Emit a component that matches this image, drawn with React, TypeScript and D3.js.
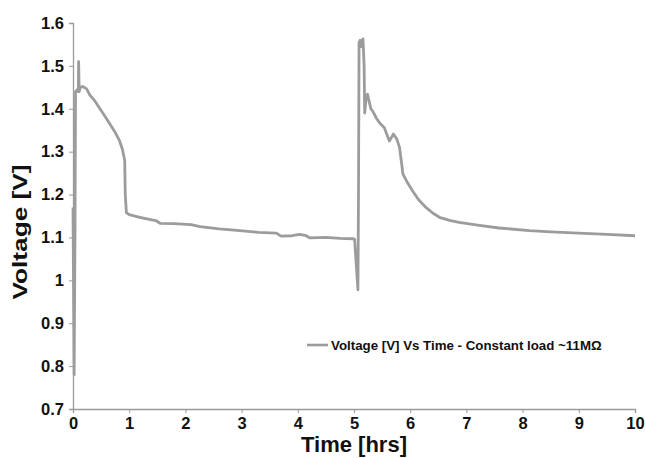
// App.tsx
import * as d3 from "d3";
import { useEffect, useRef } from "react";

const width = 645;
const height = 458;
const margin = { top: 23, right: 10, bottom: 49, left: 73 };

// time in hours
const times = [
  0.0, 0.02, 0.035, 0.045, 0.08, 0.095, 0.1, 0.11, 0.13, 0.17, 0.24, 0.3, 0.38, 0.48,
  0.58, 0.66, 0.75, 0.83, 0.88, 0.92, 0.93, 0.95, 1.0, 1.19, 1.4, 1.48, 1.55, 1.8,
  2.1, 2.26, 2.6, 2.97, 3.3, 3.62, 3.7, 3.9, 4.03, 4.15, 4.21, 4.5, 4.75, 4.98,
  5.01, 5.07, 5.08, 5.09, 5.11, 5.13, 5.16, 5.18, 5.19, 5.22, 5.24, 5.3, 5.33, 5.4,
  5.45, 5.54, 5.6, 5.63, 5.7, 5.76, 5.81, 5.85, 5.87, 5.95, 6.04, 6.15, 6.28, 6.4,
  6.52, 6.7, 6.87, 7.23, 7.58, 8.12, 8.5, 9.0, 9.5, 10.0,
];

// voltage [V]
const volts = [
  1.17, 0.78, 1.1, 1.44, 1.445, 1.44, 1.51, 1.44, 1.45, 1.452, 1.447, 1.432, 1.42, 1.4,
  1.38, 1.364, 1.345, 1.325, 1.305, 1.28, 1.2, 1.158, 1.153, 1.147, 1.141, 1.139, 1.133, 1.132,
  1.13, 1.125, 1.12, 1.116, 1.112, 1.11, 1.103, 1.104, 1.107, 1.104, 1.099, 1.1, 1.098, 1.097,
  1.096, 0.978, 1.2, 1.555, 1.56, 1.545, 1.563, 1.5, 1.39, 1.43, 1.434, 1.4, 1.395, 1.378,
  1.368, 1.356, 1.335, 1.325, 1.341, 1.33, 1.31, 1.27, 1.248, 1.228, 1.209, 1.188, 1.17, 1.157,
  1.147, 1.14, 1.135, 1.128, 1.122, 1.116, 1.113, 1.11, 1.107, 1.104,
];

const xTicks = [0, 1, 2, 3, 4, 5, 6, 7, 8, 9, 10];
const yTicks = [0.7, 0.8, 0.9, 1.0, 1.1, 1.2, 1.3, 1.4, 1.5, 1.6];

const legendLabel = "Voltage [V] Vs Time - Constant load ~11M\u03A9";
const font = "'Liberation Sans', Arial, sans-serif";

export default function App() {
  const svgRef = useRef<SVGSVGElement>(null);

  useEffect(() => {
    document.body.style.margin = "0";
    const svg = d3.select(svgRef.current);
    svg.selectAll("*").remove();

    const w = width - margin.left - margin.right;
    const h = height - margin.top - margin.bottom;

    const x = d3.scaleLinear().domain([0, 10]).range([0, w]);
    const y = d3.scaleLinear().domain([0.7, 1.6]).range([h, 0]);

    const g = svg.append("g").attr("transform", `translate(${margin.left},${margin.top})`);

    // axes
    const xAxis = g
      .append("g")
      .attr("transform", `translate(0,${h})`)
      .call(d3.axisBottom(x).tickValues(xTicks).tickSize(4).tickPadding(4).tickFormat(d3.format("d")));

    const yAxis = g
      .append("g")
      .call(d3.axisLeft(y).tickValues(yTicks).tickSize(4).tickPadding(5).tickFormat((d) => `${+(+d).toFixed(1)}`));

    [xAxis, yAxis].forEach((a) => {
      a.select(".domain").attr("stroke", "#9a9a9a").attr("stroke-width", 1.3);
      a.selectAll(".tick line").attr("stroke", "#9a9a9a");
      a.selectAll(".tick text")
        .attr("fill", "#111")
        .style("font-family", font)
        .style("font-weight", "bold")
        .style("font-size", "16.5px");
    });

    // data line
    const data = times.map((t, i) => [t, volts[i]] as [number, number]);
    const line = d3
      .line<[number, number]>()
      .x((d) => x(d[0]))
      .y((d) => y(d[1]));

    g.append("path")
      .datum(data)
      .attr("d", line)
      .attr("fill", "none")
      .attr("stroke", "#9c9c9c")
      .attr("stroke-width", 2.8)
      .attr("stroke-linejoin", "round");

    // axis titles
    svg
      .append("text")
      .attr("x", margin.left + w / 2)
      .attr("y", 452)
      .attr("text-anchor", "middle")
      .style("font-family", font)
      .style("font-weight", "bold")
      .style("font-size", "22px")
      .attr("fill", "#111")
      .text("Time [hrs]");

    // title is stretched along its length in the source figure
    svg
      .append("text")
      .attr("transform", `translate(26.5,232) rotate(-90) scale(1.25,1)`)
      .attr("text-anchor", "middle")
      .style("font-family", font)
      .style("font-weight", "bold")
      .style("font-size", "21px")
      .attr("fill", "#111")
      .text("Voltage [V]");

    // legend
    const lg = svg.append("g").attr("transform", "translate(307,345)");
    lg.append("line")
      .attr("x1", 0)
      .attr("x2", 21)
      .attr("stroke", "#9c9c9c")
      .attr("stroke-width", 2.6);
    lg.append("text")
      .attr("x", 24)
      .attr("y", 4.5)
      .style("font-family", font)
      .style("font-weight", "bold")
      .style("font-size", "13.3px")
      .attr("fill", "#111")
      .text(legendLabel);
  }, []);

  return <svg ref={svgRef} width={width} height={height}></svg>;
}
